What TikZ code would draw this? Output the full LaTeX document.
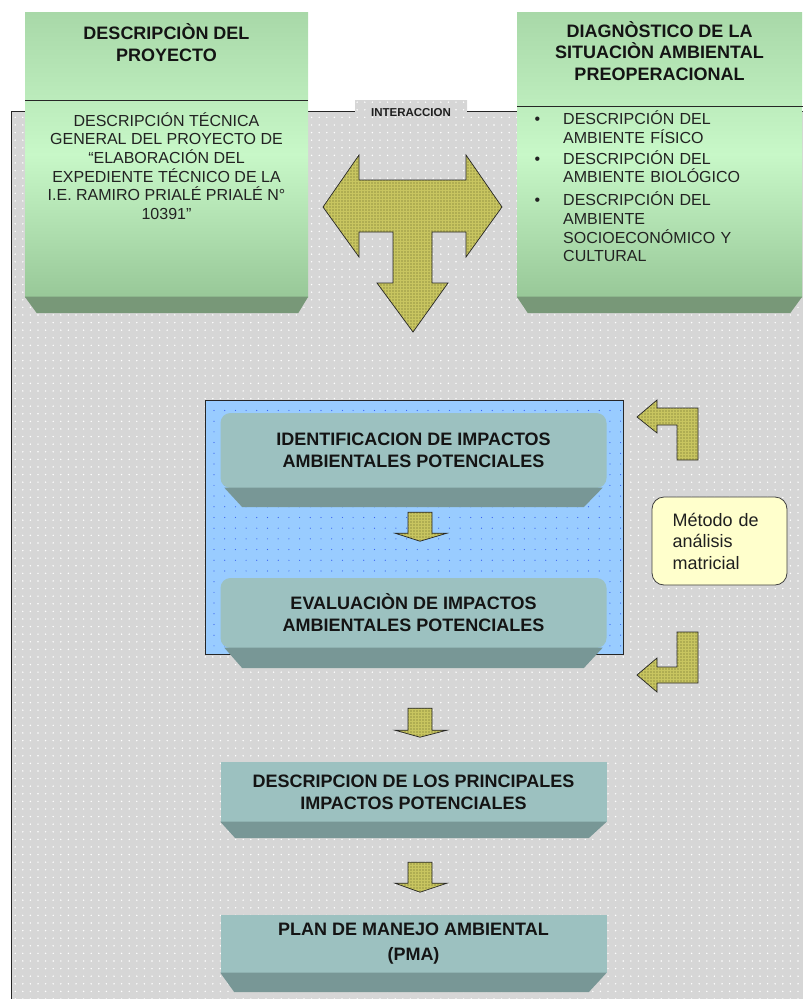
\documentclass[tikz,border=0pt]{standalone}
\usepackage{fontspec}
\setmainfont{Liberation Sans}
\usetikzlibrary{patterns.meta}
\definecolor{bggray}{HTML}{D6D6D6}
\definecolor{gtop}{HTML}{A8D8A8}
\definecolor{gmid}{HTML}{C8F8C8}
\definecolor{gbot}{HTML}{98C898}
\definecolor{gdark}{HTML}{789878}
\definecolor{tealA}{HTML}{9CC1C0}
\definecolor{tealB}{HTML}{789796}
\definecolor{bluefill}{HTML}{99CCFF}
\definecolor{bluedot}{HTML}{3A62F0}
\definecolor{arrowfill}{HTML}{C8C560}
\definecolor{arrowdark}{HTML}{5E5E26}
\definecolor{methfill}{HTML}{FFFFCC}
\definecolor{bodygray}{HTML}{222222}
\begin{document}
\begin{tikzpicture}[x=1pt,y=-1pt,
  bgarea/.style={preaction={fill=bggray}, pattern={Dots[distance=7.6pt,radius=0.8pt]}, pattern color=white},
  framestyle/.style={draw=black!85, line width=0.8pt},
  greenbox/.style={inner sep=0pt, top color=gtop, bottom color=gbot, middle color=gmid, minimum height=285pt},
  greenbevel/.style={fill=gdark},
  titletext/.style={font=\fontsize{18}{21.7}\selectfont\bfseries, align=center, text=black!92},
  bodytext/.style={font=\fontsize{16}{18.7}\selectfont, text=bodygray},
  tealbox/.style={fill=tealA, inner sep=0pt, minimum width=386pt, font=\fontsize{18}{22}\selectfont\bfseries, text=black!92, align=center},
  tealbevel/.style={fill=tealB},
  blockarrow/.style={preaction={fill=arrowfill}, pattern={Dots[distance=3pt,radius=0.55pt]}, pattern color=arrowdark, draw=black!85, line width=0.7pt, line join=miter},
  methbox/.style={fill=methfill, draw=black!75, line width=0.8pt, rounded corners=12pt, minimum width=135pt, minimum height=88pt, inner xsep=20.7pt, text width=93.6pt, align=left, font=\fontsize{18}{21.5}\selectfont, text=black!88},
  bluegroup/.style={preaction={fill=bluefill}, pattern={Dots[distance=10.7pt,radius=0.6pt]}, pattern color=bluedot, draw=black!85, line width=0.8pt, minimum width=418pt, minimum height=254pt, inner sep=0pt}
]
\useasboundingbox (0,0) rectangle (803,999);

% background frame with notch for label
\path[bgarea] (11,111) -- (355,111) -- (355,100) -- (467,100) -- (467,111) -- (803,111) -- (803,999) -- (11,999) -- cycle;
\draw[framestyle] (11,999) -- (11,111) -- (355,111);
\draw[framestyle] (467,111) -- (803,111);
\node[font=\fontsize{11.5}{13}\selectfont\bfseries, text=black!88, inner sep=0pt] (inter) at (411,112.5) {INTERACCION};

% blue group
\node[bluegroup] (grupo) at (414,527) {};

% left green box
\node[greenbox, minimum width=283pt] (proj) at (166.5,154.5) {};
\fill[greenbevel] ([yshift=0.5pt]proj.south west) -- ([yshift=0.5pt]proj.south east) -- ([xshift=-10pt,yshift=-16pt]proj.south east) -- ([xshift=12pt,yshift=-16pt]proj.south west) -- cycle;
\draw[black!85, line width=0.8pt] (25,100) -- (308,100);
\node[titletext] (projt) at (166.5,42.5) {DESCRIPCIÒN DEL\\PROYECTO};
\node[bodytext, align=center] (projb) at (166.5,166) {DESCRIPCIÓN TÉCNICA\\GENERAL DEL PROYECTO DE\\“ELABORACIÓN DEL\\EXPEDIENTE TÉCNICO DE LA\\I.E. RAMIRO PRIALÉ PRIALÉ N°\\10391”};

% right green box
\node[greenbox, minimum width=285pt] (diag) at (659.5,154.5) {};
\fill[greenbevel] ([yshift=0.5pt]diag.south west) -- ([yshift=0.5pt]diag.south east) -- ([xshift=-12pt,yshift=-16pt]diag.south east) -- ([xshift=11pt,yshift=-16pt]diag.south west) -- cycle;
\draw[black!85, line width=0.8pt] (517,106) -- (803,106);
\node[titletext] (diagt) at (659.5,51) {DIAGNÒSTICO DE LA\\SITUACIÒN AMBIENTAL\\PREOPERACIONAL};
\node[bodytext, anchor=base] (b1) at (537.5,124.4) {•};
\node[bodytext, anchor=base] (b2) at (537.5,164) {•};
\node[bodytext, anchor=base] (b3) at (537.5,205.7) {•};
\node[bodytext, anchor=base west, text width=230pt, align=left, inner sep=0pt] (i1) at (563,124.4) {DESCRIPCIÓN DEL\\AMBIENTE FÍSICO};
\node[bodytext, anchor=base west, text width=230pt, align=left, inner sep=0pt] (i2) at (563,164) {DESCRIPCIÓN DEL\\AMBIENTE BIOLÓGICO};
\node[bodytext, anchor=base west, text width=230pt, align=left, inner sep=0pt] (i3) at (563,205.7) {DESCRIPCIÓN DEL\\AMBIENTE\\SOCIOECONÓMICO Y\\CULTURAL};

% interaction T arrow
\path[blockarrow] (323,207) -- (359,155) -- (359,180) -- (466,180) -- (466,155) -- (502,207) -- (466,257) -- (466,232) -- (432,232) -- (432,283) -- (448,283) -- (413,332) -- (377,283) -- (393,283) -- (393,232) -- (359,232) -- (359,257) -- cycle;

% teal boxes
\node[tealbox, rounded corners=10pt, minimum height=75pt] (ident) at (413.5,450.5) {IDENTIFICACION DE IMPACTOS\\AMBIENTALES POTENCIALES};
\fill[tealbevel] ([xshift=4pt,yshift=0.5pt]ident.south west) -- ([xshift=-4pt,yshift=0.5pt]ident.south east) -- ([xshift=-23pt,yshift=-19pt]ident.south east) -- ([xshift=22pt,yshift=-19pt]ident.south west) -- cycle;

\node[tealbox, rounded corners=10pt, minimum height=70pt] (eval) at (413.5,613) {EVALUACIÒN DE IMPACTOS\\AMBIENTALES POTENCIALES};
\fill[tealbevel] ([xshift=4pt,yshift=0.5pt]eval.south west) -- ([xshift=-4pt,yshift=0.5pt]eval.south east) -- ([xshift=-23pt,yshift=-20pt]eval.south east) -- ([xshift=22pt,yshift=-20pt]eval.south west) -- cycle;

\node[tealbox, minimum height=60pt] (desc) at (413.5,792) {DESCRIPCION DE LOS PRINCIPALES\\IMPACTOS POTENCIALES};
\fill[tealbevel] ([yshift=0.5pt]desc.south west) -- ([yshift=0.5pt]desc.south east) -- ([xshift=-18pt,yshift=-16pt]desc.south east) -- ([xshift=15pt,yshift=-16pt]desc.south west) -- cycle;

\node[tealbox, minimum height=58pt, font=\fontsize{18}{25}\selectfont\bfseries] (pma) at (413.5,944) {PLAN DE MANEJO AMBIENTAL\\(PMA)};
\fill[tealbevel] ([yshift=0.5pt]pma.south west) -- ([yshift=0.5pt]pma.south east) -- ([xshift=-18pt,yshift=-19pt]pma.south east) -- ([xshift=14pt,yshift=-19pt]pma.south west) -- cycle;

% small down arrows between boxes
\path[blockarrow] ([xshift=-5.5pt,yshift=-24pt]ident.south) -- ([xshift=18.5pt,yshift=-24pt]ident.south) -- ([xshift=18.5pt,yshift=-45pt]ident.south) -- ([xshift=33.5pt,yshift=-45pt]ident.south) -- ([xshift=6.5pt,yshift=-53pt]ident.south) -- ([xshift=-18.5pt,yshift=-45pt]ident.south) -- ([xshift=-5.5pt,yshift=-45pt]ident.south) -- cycle;
\path[blockarrow] ([xshift=-5.5pt,yshift=-60pt]eval.south) -- ([xshift=18.5pt,yshift=-60pt]eval.south) -- ([xshift=18.5pt,yshift=-82pt]eval.south) -- ([xshift=33.5pt,yshift=-82pt]eval.south) -- ([xshift=6.5pt,yshift=-89pt]eval.south) -- ([xshift=-18.5pt,yshift=-82pt]eval.south) -- ([xshift=-5.5pt,yshift=-82pt]eval.south) -- cycle;
\path[blockarrow] ([xshift=-5.5pt,yshift=-40pt]desc.south) -- ([xshift=18.5pt,yshift=-40pt]desc.south) -- ([xshift=18.5pt,yshift=-61pt]desc.south) -- ([xshift=33.5pt,yshift=-61pt]desc.south) -- ([xshift=6.5pt,yshift=-70pt]desc.south) -- ([xshift=-18.5pt,yshift=-61pt]desc.south) -- ([xshift=-5.5pt,yshift=-61pt]desc.south) -- cycle;

% side L arrows
\path[blockarrow] (637,417) -- (657,400) -- (657,408) -- (698,408) -- (698,460) -- (677,460) -- (677,425) -- (657,425) -- (657,433) -- cycle;
\path[blockarrow] (637,675) -- (657,658) -- (657,667) -- (677,667) -- (677,632) -- (698,632) -- (698,683) -- (657,683) -- (657,692) -- cycle;

% method box
\node[methbox] (metodo) at (719.5,541) {Método de\\análisis\\matricial};
\end{tikzpicture}
\end{document}
